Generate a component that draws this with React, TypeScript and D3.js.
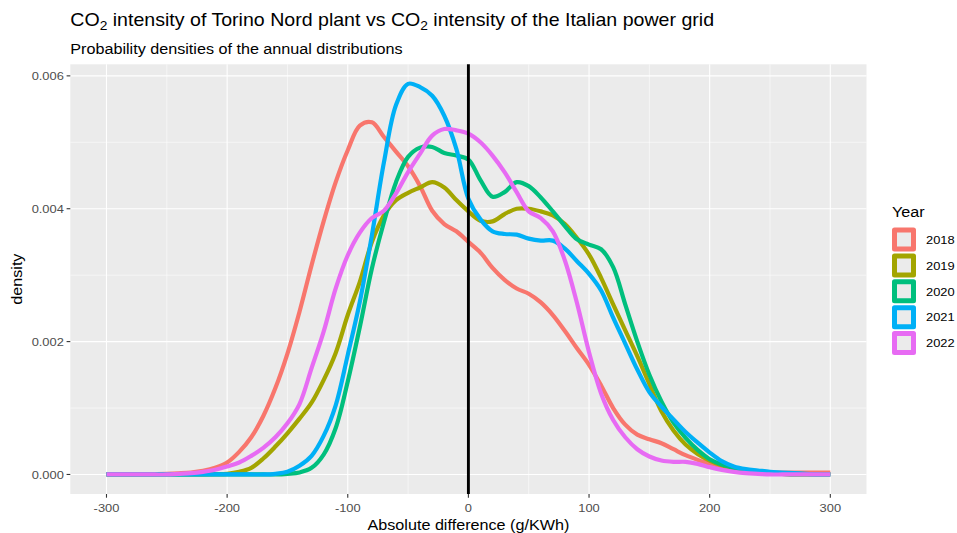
import React from "react"
import * as d3 from "d3"

// ---------- Data ----------
const xValues = [
    -300, -290, -280, -270, -260, -250, -240, -230, -220, -210,
    -200, -190, -180, -170, -160, -150, -140, -130, -120, -110,
    -100, -90, -80, -70, -60, -50, -40, -30, -20, -10,
    0, 10, 20, 30, 40, 50, 60, 70, 80, 90,
    100, 110, 120, 130, 140, 150, 160, 170, 180, 190,
    200, 210, 220, 230, 240, 250, 260, 270, 280, 290, 300,
]

const density2018 = [
    0, 0, 0, 0.000003, 0.000006, 0.00001, 0.000018, 0.00003, 0.000055, 0.0001,
    0.00018, 0.00034, 0.00056, 0.00088, 0.0013, 0.00182, 0.00245, 0.00315, 0.00381, 0.0044,
    0.00488, 0.00525, 0.0053, 0.00508, 0.00486, 0.00464, 0.00434, 0.00397, 0.00377, 0.00366,
    0.0035, 0.00334, 0.00311, 0.00293, 0.0028, 0.00272, 0.00259, 0.0024, 0.00216, 0.0019,
    0.00165, 0.00134, 0.001, 0.00075, 0.0006, 0.00053, 0.00047, 0.00038, 0.00029, 0.00022,
    0.00016, 0.0001, 0.00006, 0.00004, 0.00003, 0.00003, 0.00003, 0.00003, 0.00003, 0.00003, 0.00003,
]

const density2019 = [
    0, 0, 0, 0, 0, 0, 0, 0, 0, 0.000003,
    0.00001, 0.00004, 0.0001, 0.00024, 0.00042, 0.00062, 0.00084, 0.00108, 0.00142, 0.00183,
    0.0024, 0.0029, 0.0035, 0.0039, 0.00413, 0.00424, 0.00432, 0.0044, 0.00432, 0.00413,
    0.00396, 0.00382, 0.00381, 0.00392, 0.004, 0.004, 0.00396, 0.0039, 0.00377, 0.00356,
    0.00331, 0.00296, 0.00256, 0.00217, 0.00178, 0.00136, 0.00095, 0.00066, 0.00045, 0.00031,
    0.00021, 0.00014, 0.0001, 0.00006, 0.00004, 0.00002, 0.00001, 0, 0, 0, 0,
]

const density2020 = [
    0, 0, 0, 0, 0, 0, 0, 0, 0, 0,
    0, 0, 0, 0, 0, 0.00001, 0.00003, 0.0001, 0.0003, 0.0007,
    0.0014, 0.00222, 0.0031, 0.0038, 0.0044, 0.00478, 0.00492, 0.00493, 0.00484, 0.0048,
    0.00474, 0.00443, 0.00418, 0.00425, 0.0044, 0.00434, 0.00417, 0.00396, 0.00374, 0.00354,
    0.00346, 0.00339, 0.00312, 0.00256, 0.002, 0.0015, 0.0011, 0.00078, 0.00055, 0.00037,
    0.00023, 0.00015, 0.0001, 0.00006, 0.00004, 0.00002, 0.00001, 0, 0, 0, 0,
]

const density2021 = [
    0, 0, 0, 0, 0, 0, 0, 0, 0, 0,
    0, 0, 0, 0, 0.00001, 0.00004, 0.00013, 0.00028, 0.00058, 0.00104,
    0.0018, 0.0026, 0.0036, 0.0047, 0.00556, 0.00588, 0.00583, 0.0057, 0.0054, 0.0049,
    0.00415, 0.00384, 0.00366, 0.00362, 0.00361, 0.00355, 0.00352, 0.00352, 0.0034, 0.00321,
    0.00302, 0.00277, 0.00236, 0.00197, 0.00158, 0.00124, 0.00102, 0.00083, 0.00064, 0.00048,
    0.00033, 0.0002, 0.00012, 0.00008, 0.00006, 0.00004, 0.00003, 0.00002, 0.00001, 0, 0,
]

const density2022 = [
    0, 0, 0, 0, 0, 0, 0.00001, 0.00002, 0.00004, 0.00007,
    0.00012, 0.00018, 0.00028, 0.0004, 0.00056, 0.00077, 0.00106, 0.0016, 0.00215, 0.0028,
    0.0033, 0.00364, 0.00386, 0.00397, 0.00423, 0.00455, 0.00483, 0.0051, 0.0052, 0.00518,
    0.00513, 0.005, 0.0048, 0.00455, 0.00425, 0.00396, 0.00386, 0.00366, 0.00322, 0.00258,
    0.00184, 0.00122, 0.00082, 0.00056, 0.00038, 0.00027, 0.00021, 0.00019, 0.00019, 0.00016,
    0.00011, 0.00007, 0.00004, 0.00002, 0.00001, 0, 0, 0, 0, 0, 0,
]

const years = ["2018", "2019", "2020", "2021", "2022"]
const seriesValues = [density2018, density2019, density2020, density2021, density2022]
const yearColors = ["#F8766D", "#A3A500", "#00BF7D", "#00B0F6", "#E76BF3"]

const xTicks = [-300, -200, -100, 0, 100, 200, 300]
const xMinorTicks = [-250, -150, -50, 50, 150, 250]
const yTicks = [0, 0.002, 0.004, 0.006]
const yMinorTicks = [0.001, 0.003, 0.005]

// ---------- Layout ----------
const width = 957
const height = 533
const panel = { left: 70.3, right: 866.5, top: 64.3, bottom: 494 }
const font = "'Liberation Sans', Arial, Helvetica, sans-serif"
const stretch = 1.1 // reference glyphs run a bit wider than Liberation Sans

// text with a small horizontal stretch, anchored at (x, y)
const Txt: React.FC<{
    x: number; y: number; size: number; fill?: string
    anchor?: "start" | "middle" | "end"; rotate?: number; children: React.ReactNode
}> = ({ x, y, size, fill = "#000", anchor = "start", rotate = 0, children }) => (
    <text
        transform={`translate(${x},${y}) rotate(${rotate}) scale(${stretch},1)`}
        fontSize={size}
        fill={fill}
        textAnchor={anchor}
    >
        {children}
    </text>
)

const App: React.FC = () => {
    // ggplot-like 5% expansion
    const xExtent = d3.extent(xValues) as [number, number]
    const xPad = (xExtent[1] - xExtent[0]) * 0.05
    const xScale = d3.scaleLinear()
        .domain([xExtent[0] - xPad, xExtent[1] + xPad])
        .range([panel.left, panel.right])

    const yMax = d3.max(seriesValues, s => d3.max(s)) ?? 0
    const yPad = yMax * 0.05
    const yScale = d3.scaleLinear()
        .domain([-yPad, yMax + yPad])
        .range([panel.bottom, panel.top])

    const line = d3.line<number>()
        .x((_, i) => xScale(xValues[i]))
        .y(d => yScale(Math.max(0, d)))
        .curve(d3.curveCatmullRom.alpha(0.5))

    const cx = (panel.left + panel.right) / 2
    const cy = (panel.top + panel.bottom) / 2

    return (
        <svg
            width={width}
            height={height}
            viewBox={`0 0 ${width} ${height}`}
            style={{ position: "absolute", left: 0, top: 0, background: "#fff" }}
            fontFamily={font}
        >
            {/* Titles */}
            <Txt x={panel.left} y={26} size={17.8}>
                CO<tspan fontSize={12.5} dy={4}>2</tspan>
                <tspan dy={-4}> intensity of Torino Nord plant vs CO</tspan>
                <tspan fontSize={12.5} dy={4}>2</tspan>
                <tspan dy={-4}> intensity of the Italian power grid</tspan>
            </Txt>
            <Txt x={panel.left} y={53.5} size={14.7}>
                Probability densities of the annual distributions
            </Txt>

            {/* Panel */}
            <rect
                x={panel.left}
                y={panel.top}
                width={panel.right - panel.left}
                height={panel.bottom - panel.top}
                fill="#EBEBEB"
            />
            {xMinorTicks.map(t => (
                <line key={"xm" + t} x1={xScale(t)} x2={xScale(t)} y1={panel.top} y2={panel.bottom}
                    stroke="#fff" strokeWidth={0.55} />
            ))}
            {yMinorTicks.map(t => (
                <line key={"ym" + t} x1={panel.left} x2={panel.right} y1={yScale(t)} y2={yScale(t)}
                    stroke="#fff" strokeWidth={0.55} />
            ))}
            {xTicks.map(t => (
                <line key={"xg" + t} x1={xScale(t)} x2={xScale(t)} y1={panel.top} y2={panel.bottom}
                    stroke="#fff" strokeWidth={1.1} />
            ))}
            {yTicks.map(t => (
                <line key={"yg" + t} x1={panel.left} x2={panel.right} y1={yScale(t)} y2={yScale(t)}
                    stroke="#fff" strokeWidth={1.1} />
            ))}

            {/* Density curves */}
            {seriesValues.map((s, i) => (
                <path key={years[i]} d={line(s) ?? ""} fill="none" stroke={yearColors[i]}
                    strokeWidth={4.2} strokeLinejoin="round" strokeLinecap="butt" />
            ))}

            {/* Zero line */}
            <line x1={xScale(0)} x2={xScale(0)} y1={panel.top} y2={panel.bottom} stroke="#000" strokeWidth={2.9} />

            {/* X axis */}
            {xTicks.map(t => (
                <g key={"xt" + t}>
                    <line x1={xScale(t)} x2={xScale(t)} y1={panel.bottom} y2={panel.bottom + 3.7}
                        stroke="#333" strokeWidth={1.1} />
                    <Txt x={xScale(t)} y={panel.bottom + 18} size={11.7} fill="#4D4D4D" anchor="middle">
                        {t}
                    </Txt>
                </g>
            ))}
            <Txt x={cx} y={529.5} size={14.7} anchor="middle">
                Absolute difference (g/KWh)
            </Txt>

            {/* Y axis */}
            {yTicks.map(t => (
                <g key={"yt" + t}>
                    <line x1={panel.left - 3.7} x2={panel.left} y1={yScale(t)} y2={yScale(t)}
                        stroke="#333" strokeWidth={1.1} />
                    <Txt x={panel.left - 6.5} y={yScale(t) + 4.2} size={11.7} fill="#4D4D4D" anchor="end">
                        {d3.format(".3f")(t)}
                    </Txt>
                </g>
            ))}
            <Txt x={22} y={cy} size={14.7} anchor="middle" rotate={-90}>
                density
            </Txt>

            {/* Legend */}
            <Txt x={892} y={216.5} size={14.7}>Year</Txt>
            {years.map((yr, i) => {
                const ky = 239.5 + i * 25.9
                return (
                    <g key={"lg" + yr}>
                        <rect x={894.5} y={ky - 9.5} width={19} height={19} fill="#EBEBEB"
                            stroke={yearColors[i]} strokeWidth={5} strokeLinejoin="round" />
                        <Txt x={926} y={ky + 4.2} size={11.7}>{yr}</Txt>
                    </g>
                )
            })}
        </svg>
    )
}

export default App
